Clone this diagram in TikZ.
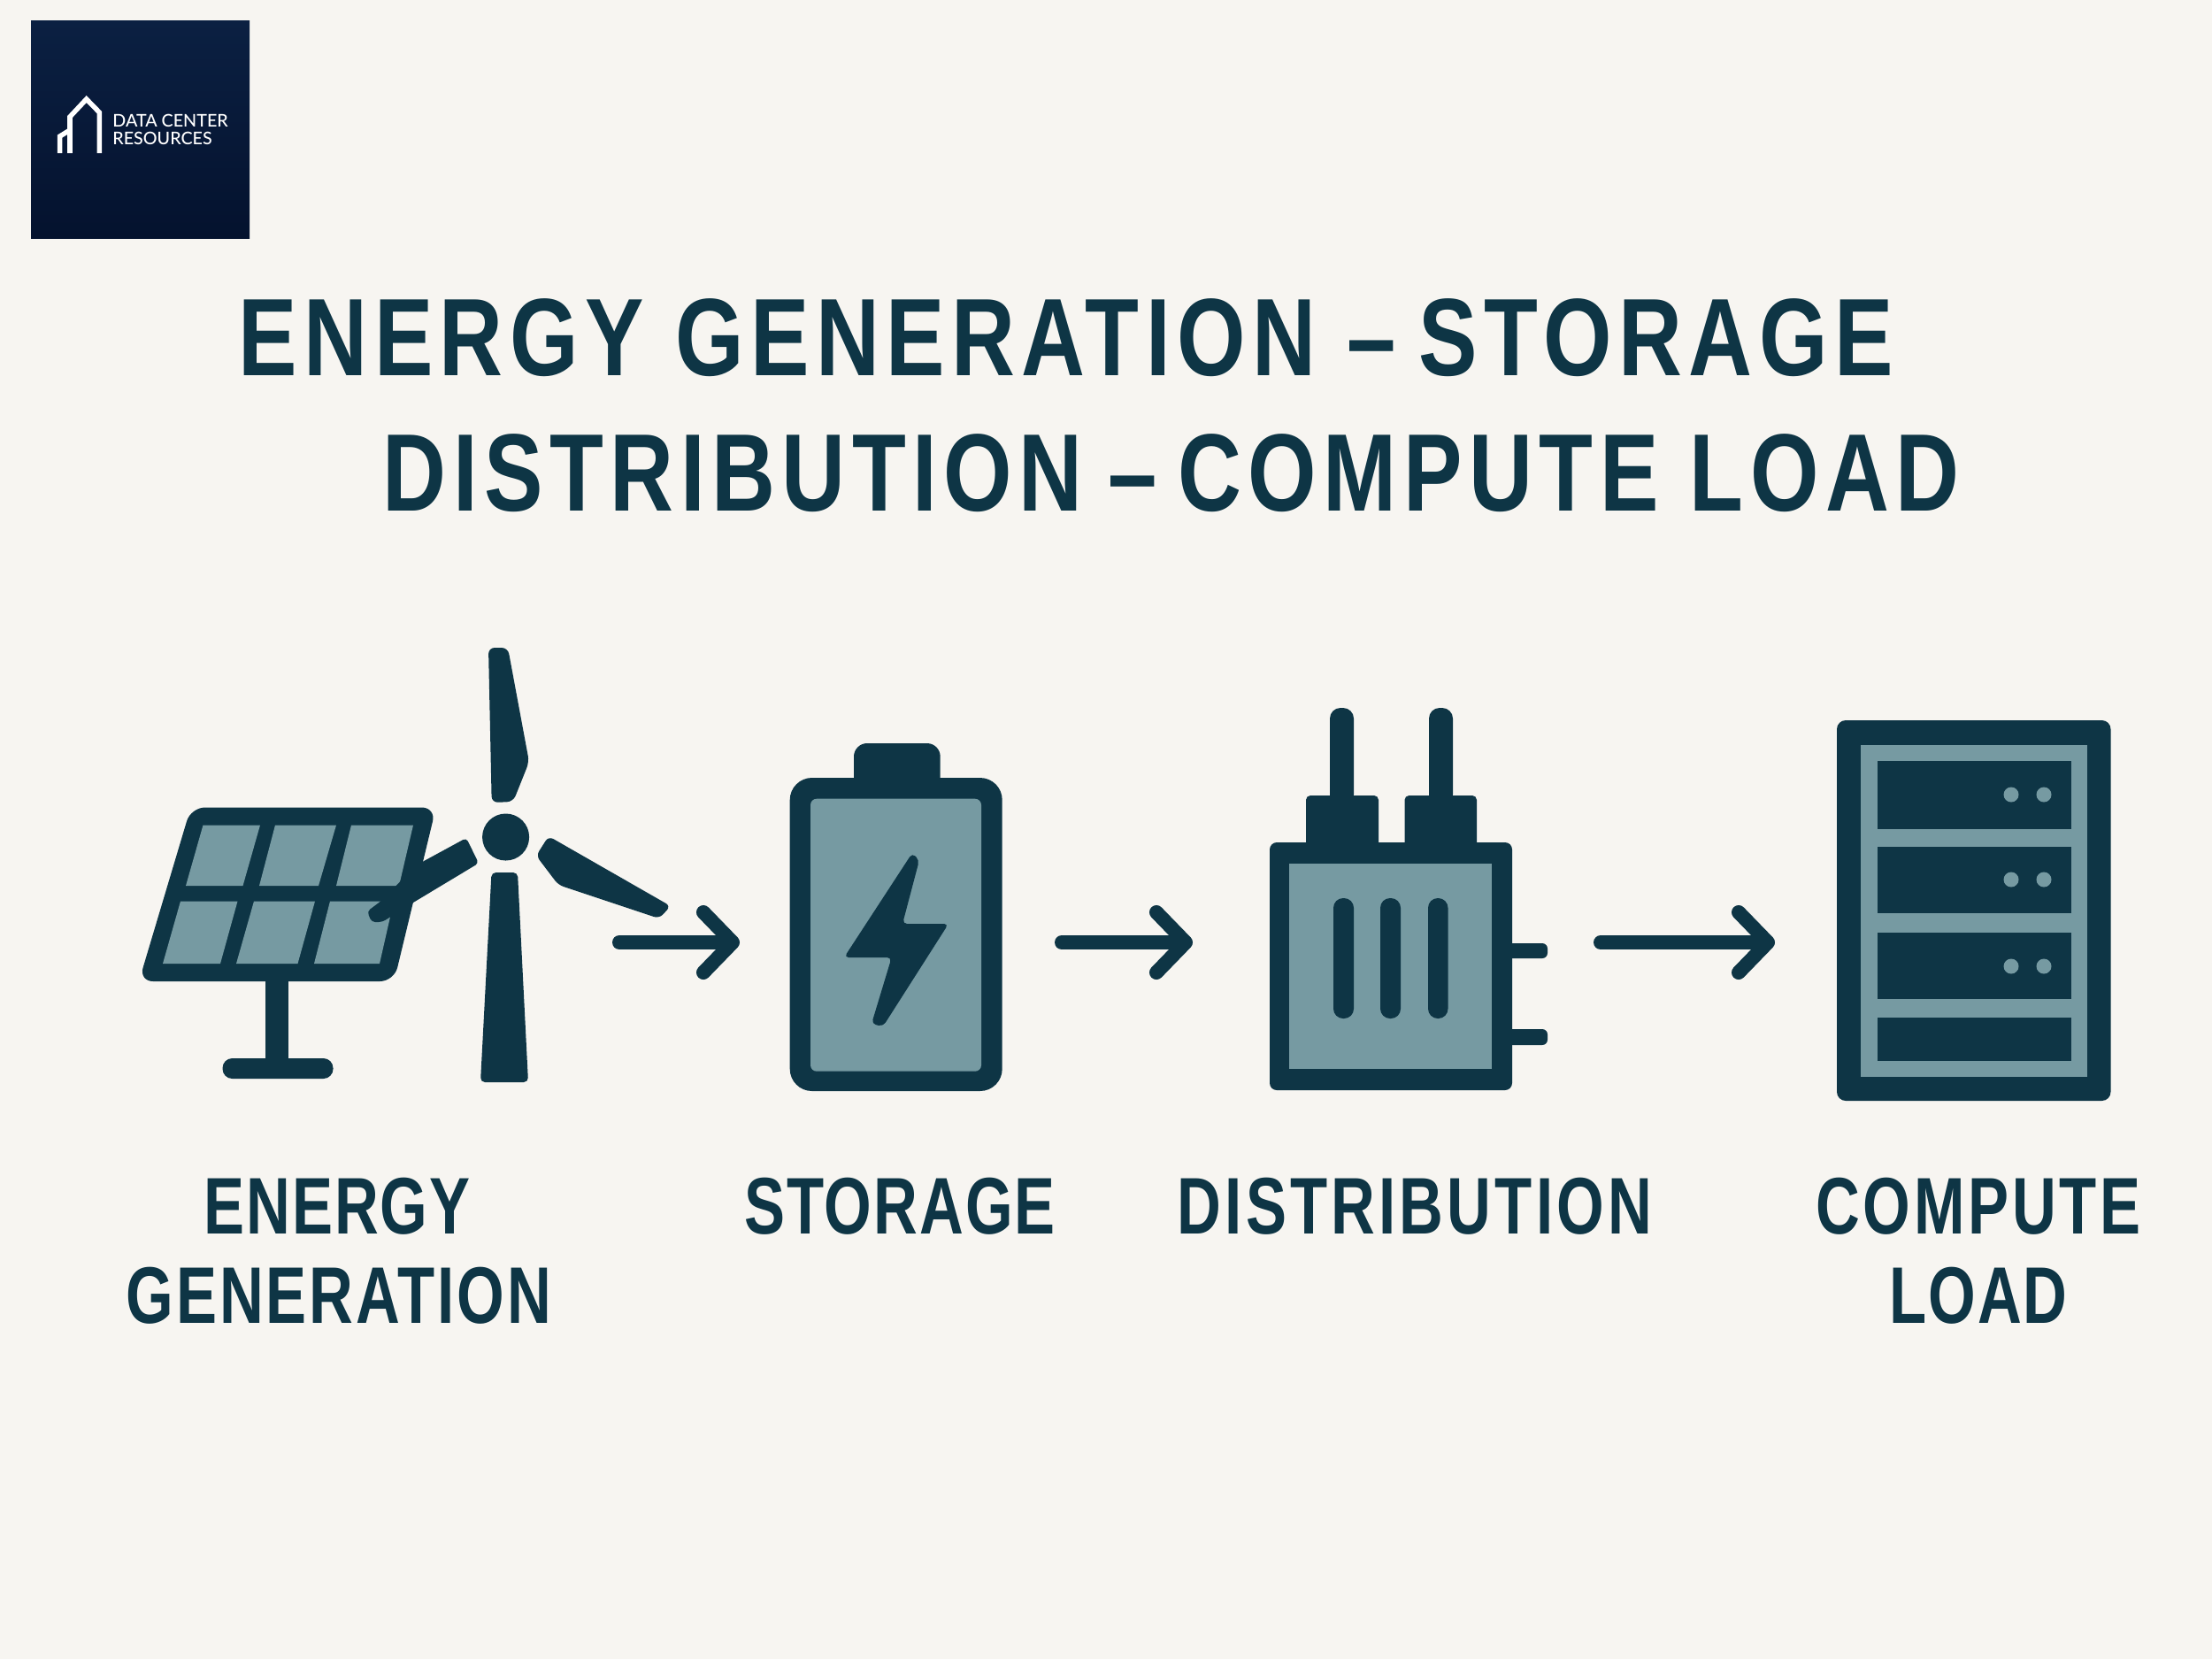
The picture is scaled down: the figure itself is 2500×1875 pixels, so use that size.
\documentclass[tikz,border=0pt]{standalone}
\usepackage{fontspec}
\usepackage{tikz}
\usetikzlibrary{arrows.meta}
\setmainfont{Liberation Sans}
\newfontfamily\headfont[FakeStretch=0.80,LetterSpace=6.05]{Liberation Sans Bold}
\newfontfamily\smallhead[FakeStretch=0.76,LetterSpace=2.2]{Liberation Sans Bold}
\newfontfamily\logofont{Lato Medium}
\definecolor{inkteal}{HTML}{0E3545}
\definecolor{midteal}{HTML}{769AA2}
\definecolor{paperbg}{HTML}{F7F5F1}
\definecolor{logotop}{HTML}{0B2042}
\definecolor{logomid}{HTML}{0E2549}
\definecolor{logobot}{HTML}{04122E}
\tikzset{
  flowarrow/.style={draw=inkteal,line width=0.16cm,line cap=round,-{Straight Barb[length=0.33cm,width=0.68cm,round]}},
  titleline/.style={anchor=base west,text=inkteal,inner sep=0pt,font=\headfont\fontsize{35.4}{35.4}\selectfont},
  steplabel/.style={anchor=base,text=inkteal,inner sep=0pt,font=\smallhead\fontsize{25.8}{25.8}\selectfont},
  logotext/.style={anchor=base west,text=white,inner sep=0pt,font=\logofont\fontsize{5.6}{5.6}\selectfont}
}
\begin{document}
\begin{tikzpicture}[x=0.01cm,y=-0.01cm]
    \useasboundingbox[fill=paperbg] (0,0) rectangle (2500,1875);
    % logo
    \shade[top color=logotop,middle color=logomid,bottom color=logobot] (35,23) rectangle (282,269);
    \draw[white,line width=0.055cm,line join=miter] (79,173) -- (79,132) -- (97.7,112) -- (112.3,127) -- (112.3,173);
    \draw[white,line width=0.055cm] (67.7,173) -- (67.7,154) -- (79,147);
    \node[logotext] (logoa) at (126.7,143) {DATA CENTER};
    \node[logotext] (logob) at (126.7,163) {RESOURCES};
    % title
    \node[titleline] (titlea) at (269,424) {ENERGY GENERATION –\kern-2.7pt{} STORAGE};
    \node[titleline] (titleb) at (432,577) {DISTRIBUTION\kern-1.7pt{} –\kern-3.4pt{} COMPUTE LOAD};
    % solar panel
    \fill[inkteal,rounded corners=0.16cm] (215.7,912.5) -- (492.8,912.5) -- (445.4,1109) -- (157,1109) -- cycle;
    \fill[inkteal] (300,1105) rectangle (326,1200);
    \fill[inkteal,rounded corners=0.11cm] (251.5,1196) rectangle (376.5,1219);
    \foreach \xa/\xb/\xc/\xd in {229.5/294/274.5/210,311/380/360/293,397/467/451/380}{%
      \fill[midteal] (\xa,932.5) -- (\xb,932.5) -- (\xc,1001) -- (\xd,1001) -- cycle;}
    \foreach \xa/\xb/\xc/\xd in {204/268.5/249/184,287/356/336.5/267,373/445/429/355}{%
      \fill[midteal] (\xa,1018.5) -- (\xb,1018.5) -- (\xc,1089) -- (\xd,1089) -- cycle;}
    % turbine
    \fill[inkteal,rounded corners=0.04cm] (527,947) -- (541,975.5) -- (467,1020) -- (432,1042) -- (420,1042) -- (415,1030) -- (431,1018) -- (470,978) -- cycle;
    \fill[inkteal,rounded corners=0.07cm] (552,732) -- (555.7,907) -- (580,906) -- (598,861) -- (574,732) -- cycle;
    \fill[inkteal] (571.6,946) circle (0.265cm);
    \fill[inkteal,rounded corners=0.06cm] (620,945) -- (606,967) -- (631,1000) -- (745,1038) -- (758,1024) -- cycle;
    \fill[inkteal,rounded corners=0.05cm] (555.5,986) -- (585,986) -- (597,1223) -- (543,1223) -- cycle;
    % battery
    \fill[inkteal,rounded corners=0.15cm] (965,840) rectangle (1062.7,900);
    \fill[inkteal,rounded corners=0.25cm] (892.7,879) rectangle (1132.7,1233);
    \fill[midteal,rounded corners=0.07cm] (916,902.7) rectangle (1109,1210.7);
    \fill[inkteal,rounded corners=0.05cm] (1031,964) -- (1039,972) -- (1020,1044) -- (1072,1044) -- (998,1160) -- (985,1157) -- (1007.7,1082) -- (954,1082) -- cycle;
    % transformer
    \foreach \xa/\xb in {1503/1530,1615/1642}{%
      \fill[inkteal,rounded corners=0.12cm] (\xa,800) rectangle (\xb,910);}
    \foreach \xa/\xb in {1476/1558,1587.5/1669}{%
      \fill[inkteal,rounded corners=0.05cm] (\xa,899) rectangle (\xb,960);}
    \foreach \ya/\yb in {1066/1083,1163/1181}{%
      \fill[inkteal,rounded corners=0.06cm] (1700,\ya) rectangle (1749,\yb);}
    \fill[inkteal,rounded corners=0.08cm] (1435,952) rectangle (1709,1232);
    \fill[midteal] (1457,976) rectangle (1686,1208);
    \foreach \xa/\xb in {1507/1530,1560/1583,1614/1636.5}{%
      \fill[inkteal,rounded corners=0.11cm] (\xa,1015) rectangle (\xb,1151);}
    % server rack
    \fill[inkteal,rounded corners=0.1cm] (2076,814) rectangle (2385.5,1244);
    \fill[midteal] (2103,842) rectangle (2359,1217);
    \foreach \ya/\yb in {860/937,957/1032,1054/1129,1150/1199}{%
      \fill[inkteal] (2122,\ya) rectangle (2341,\yb);}
    \foreach \yc in {898,994,1092}{%
      \fill[midteal] (2273,\yc) circle (0.085cm);
      \fill[midteal] (2310,\yc) circle (0.085cm);}
    % arrows
    \coordinate (gena) at (700,1065);  \coordinate (genb) at (836,1065);
    \coordinate (stora) at (1200,1065); \coordinate (storb) at (1348,1065);
    \coordinate (dista) at (1809,1065); \coordinate (distb) at (2006,1065);
    \draw[flowarrow] (gena) -- (genb);
    \draw[flowarrow] (stora) -- (storb);
    \draw[flowarrow] (dista) -- (distb);
    % labels
    \node[steplabel] (lblgena) at (381,1394) {ENERGY};
    \node[steplabel] (lblgenb) at (383,1495) {\addfontfeature{LetterSpace=3.2}GENERATION};
    \node[steplabel] (lblstor) at (1017,1394) {STORAGE};
    \node[steplabel] (lbldist) at (1599,1394) {\addfontfeature{LetterSpace=4.6}DISTRIBUTION};
    \node[steplabel] (lblcompa) at (2236,1394) {\addfontfeature{LetterSpace=4.2}COMPUTE};
    \node[steplabel] (lblcompb) at (2236,1495) {LOAD};
\end{tikzpicture}
\end{document}
